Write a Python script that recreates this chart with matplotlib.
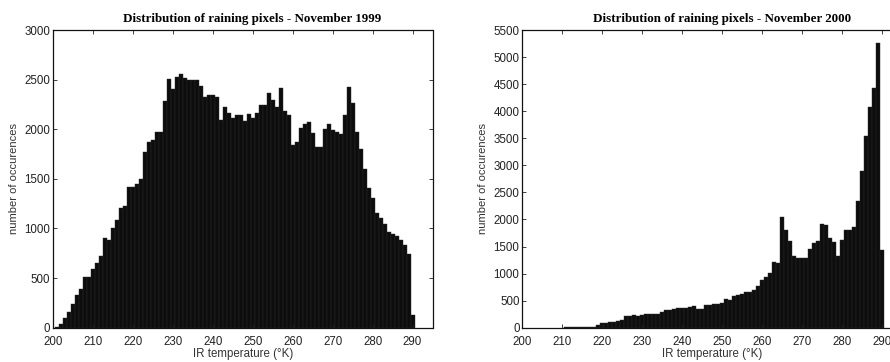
import numpy as np
from matplotlib import pyplot as plt

# bin centres (IR temperature, K) and counts
temp_1999 = np.arange(201, 291)
count_1999 = [10, 40, 100, 160, 235, 330, 385, 515, 515, 590,
              650, 720, 900, 880, 1000, 1085, 1210, 1225, 1420, 1415,
              1445, 1500, 1773, 1867, 1893, 1977, 1970, 2283, 2507, 2407,
              2523, 2553, 2517, 2500, 2500, 2500, 2440, 2327, 2350, 2340,
              2327, 2093, 2223, 2167, 2110, 2140, 2143, 2083, 2150, 2117,
              2167, 2247, 2247, 2367, 2293, 2220, 2413, 2183, 2143, 1840,
              1873, 2017, 2050, 2073, 1967, 1823, 1823, 2007, 2050, 1990,
              1977, 1957, 2140, 2427, 2260, 1970, 1800, 1600, 1410, 1309,
              1158, 1107, 1050, 963, 946, 923, 880, 832, 745, 128]

temp_2000 = np.arange(211, 291)
count_2000 = [15, 15, 15, 15, 15, 15, 15, 15, 50, 80,
              92, 105, 111, 123, 135, 209, 209, 240, 215, 234,
              252, 258, 246, 258, 289, 320, 332, 345, 357, 370,
              357, 382, 400, 345, 350, 420, 420, 443, 443, 450,
              530, 517, 579, 610, 628, 653, 665, 690, 763, 880,
              936, 1016, 1207, 1194, 2044, 1805, 1604, 1320, 1293, 1281,
              1293, 1447, 1564, 1600, 1921, 1890, 1650, 1582, 1320, 1625,
              1810, 1810, 1862, 2350, 2890, 3550, 4082, 4435, 5264, 1432]

titles = ['Distribution of raining pixels - November 1999',
          'Distribution of raining pixels - November 2000']
x_ticks = [200, 210, 220, 230, 240, 250, 260, 270, 280, 290]
y_ticks_1999 = np.arange(0, 3001, 500)
y_ticks_2000 = np.arange(0, 5501, 500)

plt.rcParams['font.family'] = ['Liberation Sans', 'DejaVu Sans']


def histogram(ax, temps, counts, y_ticks, title):
    ax.bar(temps, counts, width=1.0, color='#0d0d0d', edgecolor='#2a2a2a', linewidth=0.3)
    ax.set_xlim(200, 295)
    ax.set_ylim(0, y_ticks[-1])
    ax.set_xticks(x_ticks)
    ax.set_yticks(y_ticks)
    ax.tick_params(direction='in', length=3, width=0.6, labelsize=8.3,
                   top=True, right=True, colors='#222222')
    ax.tick_params(axis='x', pad=6)
    ax.tick_params(axis='y', pad=2)
    for s in ax.spines.values():
        s.set_linewidth(0.9)
        s.set_color('#111111')
    ax.set_xlabel('IR temperature (°K)', fontsize=8.3, color='#333333', labelpad=0)
    ax.set_ylabel('number of occurences', fontsize=8, color='#333333', labelpad=4)
    t = ax.set_title(title, fontsize=9.4, fontweight='bold', family='Liberation Serif', pad=6)
    t.set_x(0.526)


fig = plt.figure(figsize=(8.9, 3.62), dpi=100)
ax1 = fig.add_axes([53 / 890, 34.3 / 362, 379.5 / 890, 297.7 / 362])
ax2 = fig.add_axes([522.3 / 890, 34.3 / 362, 379.5 / 890, 297.7 / 362])

histogram(ax1, temp_1999, count_1999, y_ticks_1999, titles[0])
histogram(ax2, temp_2000, count_2000, y_ticks_2000, titles[1])

fig.savefig('out.png', dpi=100)
